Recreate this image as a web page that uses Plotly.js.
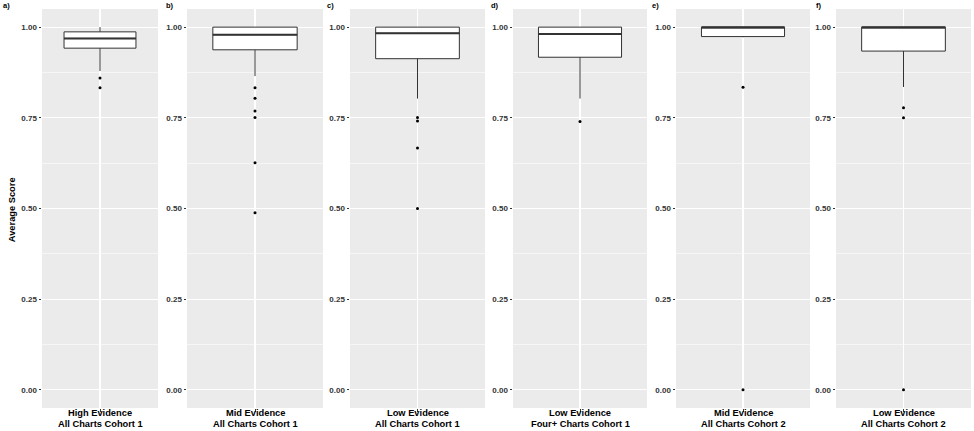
<!DOCTYPE html>
<html><head><meta charset="utf-8">
<script src="https://cdn.plot.ly/plotly-3.0.1.min.js"></script>
<style>html,body{margin:0;padding:0;background:#fff}</style>
</head><body><div id="chart" style="width:974px;height:431px"></div>
<script>
// ---- data ----
const panelLetters = ['a)', 'b)', 'c)', 'd)', 'e)', 'f)'];
const groupNames = ['High Evidence', 'Mid Evidence', 'Low Evidence', 'Low Evidence', 'Mid Evidence', 'Low Evidence'];
const groupSubtitles = ['All Charts Cohort 1', 'All Charts Cohort 1', 'All Charts Cohort 1', 'Four+ Charts Cohort 1', 'All Charts Cohort 2', 'All Charts Cohort 2'];
const q1Values = [0.942, 0.9375, 0.913, 0.917, 0.974, 0.934];
const medianValues = [0.969, 0.979, 0.983, 0.981, 1.0, 1.0];
const q3Values = [0.987, 1.0, 1.0, 1.0, 1.0, 1.0];
const lowerWhisker = [0.879, 0.865, 0.803, 0.803, 0.972, 0.835];
const upperWhisker = [1.0, 1.0, 1.0, 1.0, 1.0, 1.0];
const outlierValues = [
  [0.860, 0.833],
  [0.833, 0.804, 0.769, 0.751, 0.626, 0.488],
  [0.751, 0.741, 0.667, 0.500],
  [0.740],
  [0.834, 0.0],
  [0.778, 0.750, 0.0]
];
const yTickValues = [0, 0.25, 0.5, 0.75, 1.0];
const yTickLabels = ['0.00', '0.25', '0.50', '0.75', '1.00'];
const yTitle = 'Average Score';

// ---- layout geometry ----
const W = 974, H = 431, MT = 9, MB = 23;
const PH = H - MT - MB;
const panelPx = [[42, 158], [187, 323], [350, 485], [513, 647], [676, 810], [836, 971]];
const letterPx = [2, 165, 326, 490, 651, 815];
const BOX_W = 0.62;
const FONT = 'Liberation Sans, Arial, sans-serif';
const py = (px) => (H - MB - px) / PH;

const traces = [];
const layout = {
  width: W, height: H,
  margin: {l: 0, r: 0, t: MT, b: MB, pad: 0},
  paper_bgcolor: '#ffffff',
  plot_bgcolor: '#EBEBEB',
  showlegend: false,
  annotations: [],
  font: {family: FONT, color: '#333333'}
};

for (let i = 0; i < 6; i++) {
  const s = i === 0 ? '' : String(i + 1);
  const xa = 'x' + s, ya = 'y' + s;
  traces.push({
    type: 'box', x: [0], q1: [q1Values[i]], median: [medianValues[i]], q3: [q3Values[i]],
    lowerfence: [lowerWhisker[i]], upperfence: [upperWhisker[i]],
    width: BOX_W, whiskerwidth: 0, boxpoints: false,
    fillcolor: '#ffffff', line: {color: '#333333', width: 1},
    xaxis: xa, yaxis: ya, hoverinfo: 'skip'
  });
  traces.push({
    type: 'scatter', mode: 'lines',
    x: [-BOX_W / 2, BOX_W / 2], y: [medianValues[i], medianValues[i]],
    line: {color: '#333333', width: 2},
    xaxis: xa, yaxis: ya, hoverinfo: 'skip'
  });
  traces.push({
    type: 'scatter', mode: 'markers',
    x: outlierValues[i].map(() => 0), y: outlierValues[i],
    marker: {color: '#000000', size: 3},
    xaxis: xa, yaxis: ya, hoverinfo: 'skip', cliponaxis: false
  });
  layout['xaxis' + s] = {
    domain: [panelPx[i][0] / W, panelPx[i][1] / W], anchor: ya,
    range: [-0.5, 0.5], tickvals: [0], ticktext: [''], showticklabels: false,
    ticks: 'outside', ticklen: 3, tickcolor: '#333333', tickwidth: 1,
    showgrid: true, gridcolor: '#ffffff', gridwidth: 1.1, zeroline: false, showline: false,
    fixedrange: true
  };
  layout['yaxis' + s] = {
    domain: [0, 1], anchor: xa,
    range: [-0.05, 1.05], tickvals: yTickValues, ticktext: yTickLabels,
    ticks: 'outside', ticklen: 2.5, tickcolor: '#333333', tickwidth: 1,
    tickfont: {family: FONT, size: 8, color: '#333333', weight: 'bold'},
    showgrid: true, gridcolor: '#ffffff', gridwidth: 1.1, zeroline: false, showline: false,
    minor: {tick0: 0.125, dtick: 0.25, showgrid: true, gridcolor: '#ffffff', gridwidth: 0.55, ticks: ''},
    fixedrange: true
  };
  const cx = (panelPx[i][0] + panelPx[i][1]) / 2 / W;
  layout.annotations.push({
    xref: 'paper', yref: 'paper', x: letterPx[i] / W, y: py(6), xanchor: 'left', yanchor: 'middle',
    text: panelLetters[i], showarrow: false, borderpad: 0,
    font: {family: FONT, size: 7.5, color: '#000000', weight: 'bold'}
  });
  layout.annotations.push({
    xref: 'paper', yref: 'paper', x: cx, y: py(413.5), xanchor: 'center', yanchor: 'middle',
    text: groupNames[i], showarrow: false, borderpad: 0,
    font: {family: FONT, size: 9.3, color: '#000000', weight: 'bold'}
  });
  layout.annotations.push({
    xref: 'paper', yref: 'paper', x: cx, y: py(424.3), xanchor: 'center', yanchor: 'middle',
    text: groupSubtitles[i], showarrow: false, borderpad: 0,
    font: {family: FONT, size: 9.3, color: '#000000', weight: 'bold'}
  });
}
layout.annotations.push({
  xref: 'paper', yref: 'paper', x: 12.7 / W, y: py(209.5), xanchor: 'center', yanchor: 'middle',
  text: yTitle, textangle: -90, showarrow: false, borderpad: 0,
  font: {family: FONT, size: 9.3, color: '#000000', weight: 'bold'}
});

Plotly.newPlot('chart', traces, layout, {displayModeBar: false, staticPlot: true});
</script>
</body></html>
